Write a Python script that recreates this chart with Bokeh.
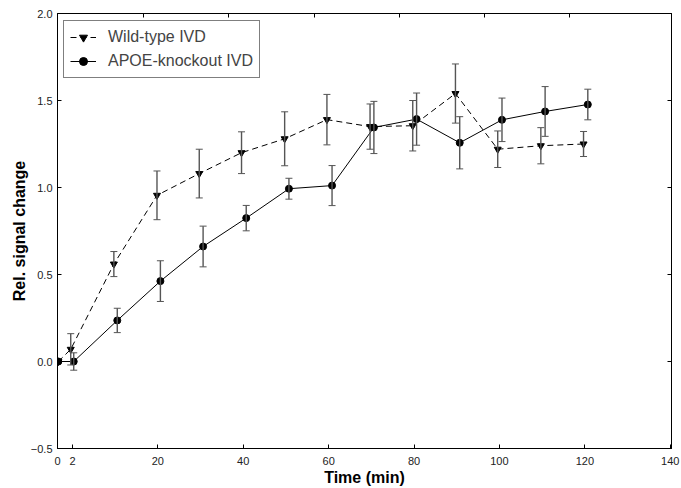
import math
from bokeh.plotting import figure
from bokeh.models import ColumnDataSource, Whisker, TeeHead, Legend, LegendItem, FixedTicker, LinearAxis
from bokeh.embed import file_html
from bokeh.resources import INLINE

# ---- data ----
time_wt = [-3.3, -0.4, 9.7, 19.8, 29.7, 39.6, 49.7, 59.6, 69.7, 79.7, 89.7, 99.6, 109.7, 119.7]
signal_wt = [0.0, 0.07, 0.56, 0.955, 1.08, 1.20, 1.28, 1.39, 1.35, 1.355, 1.54, 1.22, 1.24, 1.25]
err_wt = [0.0, 0.09, 0.072, 0.14, 0.14, 0.12, 0.155, 0.145, 0.13, 0.145, 0.17, 0.105, 0.104, 0.072]

time_ko = [-3.3, 0.3, 10.5, 20.6, 30.6, 40.7, 50.7, 60.8, 70.6, 80.6, 90.7, 100.6, 110.7, 120.7]
signal_ko = [0.0, 0.0, 0.236, 0.462, 0.661, 0.824, 0.993, 1.011, 1.345, 1.393, 1.257, 1.389, 1.437, 1.477]
err_ko = [0.0, 0.05, 0.07, 0.117, 0.117, 0.073, 0.06, 0.115, 0.15, 0.15, 0.15, 0.125, 0.143, 0.088]

x_tick_pos = [-3.5, 0, 20, 40, 60, 80, 100, 120, 140]
x_tick_labels = ["0", "2", "20", "40", "60", "80", "100", "120", "140"]
top_tick_pos = [16.6, 36.6, 56.6, 76.5, 96.4, 116.4]
y_tick_pos = [-0.5, 0.0, 0.5, 1.0, 1.5, 2.0]
y_tick_labels = ["\u22120.5", "0.0", "0.5", "1.0", "1.5", "2.0"]

series_names = ["Wild-type IVD", "APOE-knockout IVD"]

p = figure(width=681, height=488, output_backend="svg", toolbar_location=None,
           x_range=(-3.5, 140.3), y_range=(-0.5, 2.0),
           min_border_left=57, min_border_right=10, min_border_top=13, min_border_bottom=40)
p.xgrid.visible = False
p.ygrid.visible = False
p.outline_line_color = "black"
p.outline_line_width = 1
p.background_fill_color = "white"

ERR = "#555555"

def add_series(xs, ys, es, dash, marker):
    src = ColumnDataSource(dict(x=xs, y=ys))
    ex = [x for x, e in zip(xs, es) if e > 0]
    ey = [y for y, e in zip(ys, es) if e > 0]
    ee = [e for e in es if e > 0]
    esrc = ColumnDataSource(dict(x=ex, upper=[y + e for y, e in zip(ey, ee)],
                                 lower=[y - e for y, e in zip(ey, ee)]))
    w = Whisker(base="x", upper="upper", lower="lower", source=esrc,
                line_color=ERR, line_width=1.4, level="glyph",
                upper_head=TeeHead(size=7, line_color=ERR, line_width=1),
                lower_head=TeeHead(size=7, line_color=ERR, line_width=1))
    p.add_layout(w)
    ln = p.line("x", "y", source=src, line_color="black", line_width=1, line_dash=dash)
    bar = p.scatter(x=[], y=[], marker="dash", angle=math.pi / 2, size=13,
                    line_color=ERR, line_width=1.4)
    pts = p.scatter("x", "y", source=src, marker=marker, size=7,
                    fill_color="black", line_color="black")
    return [ln, bar, pts]

r_wt = add_series(time_wt, signal_wt, err_wt, "6 4", "inverted_triangle")
r_ko = add_series(time_ko, signal_ko, err_ko, "solid", "circle")

legend = Legend(items=[LegendItem(label=series_names[0], renderers=r_wt),
                       LegendItem(label=series_names[1], renderers=r_ko)],
                location=(6, 370), margin=0, padding=6, spacing=4,
                label_height=20, glyph_height=20, glyph_width=26, label_standoff=12,
                label_text_font="Liberation Sans", label_text_font_size="16px",
                border_line_color="black", border_line_width=1,
                background_fill_alpha=1.0)
p.add_layout(legend)

top_axis = LinearAxis(ticker=FixedTicker(ticks=top_tick_pos))
right_axis = LinearAxis(ticker=FixedTicker(ticks=y_tick_pos))
for ax in (top_axis, right_axis):
    ax.major_label_text_font_size = "0px"
    ax.major_label_standoff = 0
    ax.major_label_text_alpha = 0
p.add_layout(top_axis, "above")
p.add_layout(right_axis, "right")

for ax in (p.xaxis, p.yaxis, [top_axis], [right_axis]):
    for a in ax:
        a.major_tick_in = 4
        a.major_tick_out = 0
        a.minor_tick_in = 0
        a.minor_tick_out = 0
        a.axis_line_color = "black"
        a.major_tick_line_color = "black"
        a.major_label_text_font = "Liberation Sans"
        a.axis_label_text_font = "Liberation Sans"
        a.axis_label_text_font_size = "16px"
        a.axis_label_text_font_style = "bold"
        a.axis_label_text_color = "black"

for a in (p.below[0], p.left[0]):
    a.major_label_text_font_size = "11px"
    a.major_label_text_color = "#222222"

xa = p.below[0]
ya = p.left[0]
xa.ticker = FixedTicker(ticks=x_tick_pos)
xa.major_label_overrides = dict(zip(x_tick_pos, x_tick_labels))
ya.ticker = FixedTicker(ticks=y_tick_pos)
ya.major_label_overrides = dict(zip(y_tick_pos, y_tick_labels))
xa.axis_label = "Time (min)"
ya.axis_label = "Rel. signal change"
xa.major_label_standoff = 8
xa.axis_label_standoff = 1
ya.major_label_standoff = 5
ya.axis_label_standoff = 0

open("out.html", "w").write(file_html(p, INLINE))
